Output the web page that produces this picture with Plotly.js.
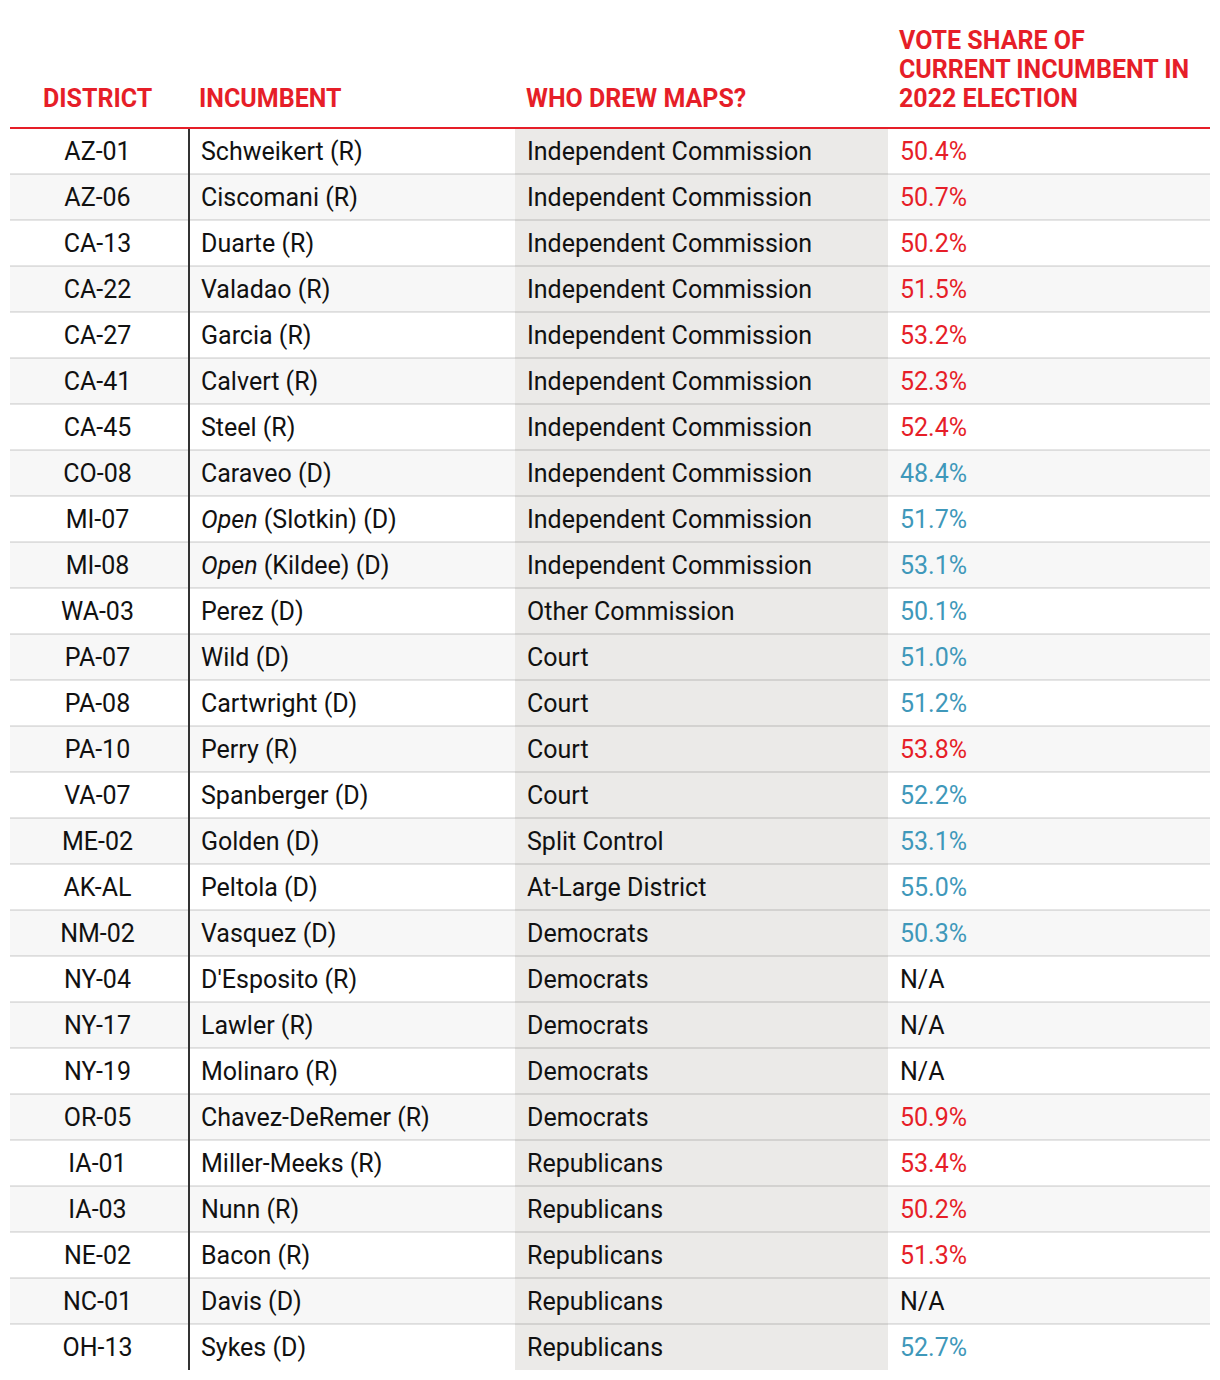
<!DOCTYPE html>
<html>
<head>
<meta charset="utf-8">
<script src="https://cdn.plot.ly/plotly-3.0.1.min.js"></script>
<style>html,body{margin:0;padding:0;background:#fff;}#chart{width:1220px;height:1380px;}</style>
</head>
<body>
<div id="chart"></div>
<script>
// ---- data ----
const headerDistrict = "DISTRICT";
const headerIncumbent = "INCUMBENT";
const headerMaps = "WHO DREW MAPS?";
const headerShareLines = ["VOTE SHARE OF", "CURRENT INCUMBENT IN", "2022 ELECTION"];
const districts = ["AZ-01","AZ-06","CA-13","CA-22","CA-27","CA-41","CA-45","CO-08","MI-07","MI-08","WA-03","PA-07","PA-08","PA-10","VA-07","ME-02","AK-AL","NM-02","NY-04","NY-17","NY-19","OR-05","IA-01","IA-03","NE-02","NC-01","OH-13"];
const incumbents = ["Schweikert (R)","Ciscomani (R)","Duarte (R)","Valadao (R)","Garcia (R)","Calvert (R)","Steel (R)","Caraveo (D)","<i>Open</i> (Slotkin) (D)","<i>Open</i> (Kildee) (D)","Perez (D)","Wild (D)","Cartwright (D)","Perry (R)","Spanberger (D)","Golden (D)","Peltola (D)","Vasquez (D)","D'Esposito (R)","Lawler (R)","Molinaro (R)","Chavez-DeRemer (R)","Miller-Meeks (R)","Nunn (R)","Bacon (R)","Davis (D)","Sykes (D)"];
const parties = ["R","R","R","R","R","R","R","D","D","D","D","D","D","R","D","D","D","D","R","R","R","R","R","R","R","D","D"];
const mapDrawers = ["Independent Commission","Independent Commission","Independent Commission","Independent Commission","Independent Commission","Independent Commission","Independent Commission","Independent Commission","Independent Commission","Independent Commission","Other Commission","Court","Court","Court","Court","Split Control","At-Large District","Democrats","Democrats","Democrats","Democrats","Democrats","Republicans","Republicans","Republicans","Republicans","Republicans"];
const voteShare = [50.4,50.7,50.2,51.5,53.2,52.3,52.4,48.4,51.7,53.1,50.1,51.0,51.2,53.8,52.2,53.1,55.0,50.3,null,null,null,50.9,53.4,50.2,51.3,null,52.7];

// ---- styling / layout constants ----
const RED = "#e61e28", BLUE = "#3f98ba", INK = "#111111";
const W = 1220, H = 1380, L = 10, R = 10, T = 25, B = 10;
const HEADER_H = 103, ROW_H = 46;
const colWidths = [179, 326, 373, 322];
const TEXT_PAD = 12;          // px from column edge to body text
const TEXT_DROP = 3 / ROW_H;  // small downward nudge of body text (row units)
const ANN_PAD = 3;            // annotation internal padding (px)
const BODY_FONT = "Roboto, sans-serif";
const HEAD_FONT = "Roboto, sans-serif";

const n = districts.length;
const rows = districts.map((_, i) => i);
const textRows = rows.map(i => i + TEXT_DROP);
const colEdges = colWidths.reduce((acc, w) => { acc.push(acc[acc.length - 1] + w); return acc; }, [0]);
const totalW = colEdges[colEdges.length - 1];
const headerRows = HEADER_H / ROW_H;
const yTop = -0.5 - headerRows, yBot = n - 0.5;
const pxToRow = px => -0.5 - (HEADER_H - px) / ROW_H; // px measured from top of header

const shareText = voteShare.map(v => v === null ? "N/A" : v.toFixed(1) + "%");
const shareColor = voteShare.map((v, i) => v === null ? INK : (parties[i] === "R" ? RED : BLUE));

// background cells: 0 = white, 1 = alternate row, 2 = "who drew maps" column
const zBg = rows.map(i => colWidths.map((_, c) => c === 2 ? 2 : (i % 2 === 1 ? 1 : 0)));

const bodyFont = {family: BODY_FONT, size: 25, color: INK};
const traces = [
  {
    type: "heatmap", x: colEdges, y: rows, z: zBg,
    zmin: 0, zmax: 2, showscale: false, hoverinfo: "skip",
    colorscale: [[0, "#ffffff"], [0.5, "#f7f7f7"], [1, "#ebeae8"]]
  },
  {
    type: "scatter", mode: "text", x: districts.map(() => colWidths[0] / 2 - 2), y: textRows,
    text: districts, textposition: "middle center", hoverinfo: "skip", textfont: bodyFont
  },
  {
    type: "scatter", mode: "text", x: incumbents.map(() => colEdges[1] + TEXT_PAD), y: textRows,
    text: incumbents, textposition: "middle right", hoverinfo: "skip", textfont: bodyFont
  },
  {
    type: "scatter", mode: "text", x: mapDrawers.map(() => colEdges[2] + TEXT_PAD), y: textRows,
    text: mapDrawers, textposition: "middle right", hoverinfo: "skip", textfont: bodyFont
  },
  {
    type: "scatter", mode: "text", x: shareText.map(() => colEdges[3] + TEXT_PAD), y: textRows,
    text: shareText, textposition: "middle right", hoverinfo: "skip",
    textfont: {family: BODY_FONT, size: 25, color: shareColor}
  }
];

// header annotations
const headFont = {family: HEAD_FONT, size: 25, color: RED, weight: 700};
const HEAD_LINE_PITCH = 29;
const HEAD_LAST_PX = 73;
const headLastLineY = pxToRow(HEAD_LAST_PX);
const annotations = [
  {x: colWidths[0] / 2 - 2, y: headLastLineY, xanchor: "center", text: headerDistrict},
  {x: colEdges[1] + TEXT_PAD - 1 - ANN_PAD, y: headLastLineY, xanchor: "left", text: headerIncumbent},
  {x: colEdges[2] + TEXT_PAD - ANN_PAD, y: headLastLineY, xanchor: "left", text: headerMaps}
].concat(headerShareLines.map((t, k) => ({
  x: colEdges[3] + TEXT_PAD - ANN_PAD,
  y: pxToRow(HEAD_LAST_PX - (headerShareLines.length - 1 - k) * HEAD_LINE_PITCH),
  xanchor: "left", text: t
}))).map(a => Object.assign({xref: "x", yref: "y", yanchor: "middle", showarrow: false, font: headFont}, a));

// separators and rules
const shapes = [];
for (let k = 0; k < n - 1; k++) {
  shapes.push({type: "line", xref: "x", yref: "y", x0: 0, x1: totalW, y0: k + 0.5, y1: k + 0.5, line: {color: "rgba(0,0,0,0.1)", width: 2}});
}
shapes.push({type: "line", xref: "x", yref: "y", x0: colEdges[1], x1: colEdges[1], y0: -0.5, y1: yBot, line: {color: "#333333", width: 2}});
shapes.push({type: "line", xref: "x", yref: "y", x0: 0, x1: totalW, y0: -0.5, y1: -0.5, line: {color: RED, width: 2}});

Plotly.newPlot("chart", traces, {
  width: W, height: H,
  margin: {l: L, r: R, t: T, b: B, pad: 0},
  paper_bgcolor: "#ffffff", plot_bgcolor: "#ffffff",
  showlegend: false,
  xaxis: {range: [0, totalW], visible: false, fixedrange: true},
  yaxis: {range: [yBot, yTop], visible: false, fixedrange: true},
  shapes: shapes,
  annotations: annotations
}, {displayModeBar: false, staticPlot: true});
</script>
</body>
</html>
